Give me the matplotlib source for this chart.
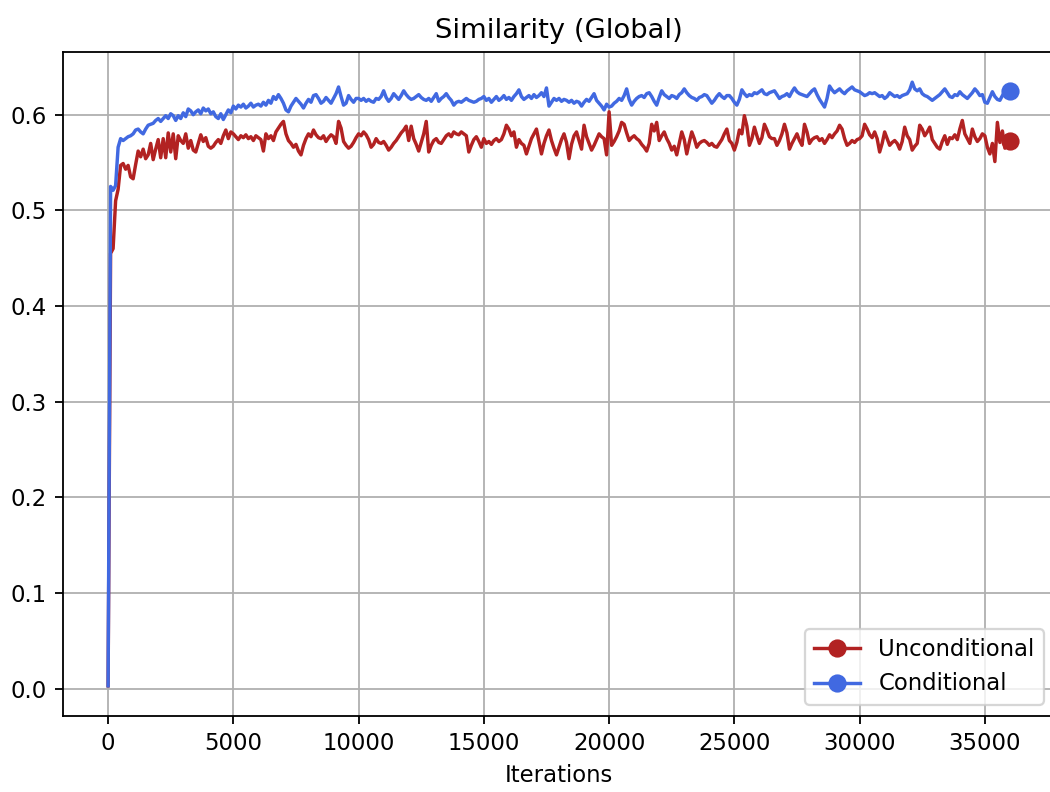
import matplotlib
matplotlib.use("Agg")
import matplotlib.pyplot as plt
import numpy as np

step = 100
iterations = list(range(0, 36001, step))

conditional = [
    0.003, 0.525, 0.521, 0.526, 0.566, 0.575, 0.573, 0.575, 0.577, 0.578,
    0.580, 0.584, 0.585, 0.582, 0.580, 0.585, 0.589, 0.590, 0.591, 0.594,
    0.596, 0.593, 0.596, 0.599, 0.596, 0.601, 0.599, 0.594, 0.599, 0.596,
    0.602, 0.598, 0.606, 0.604, 0.600, 0.603, 0.605, 0.601, 0.607, 0.604,
    0.606, 0.601, 0.603, 0.598, 0.596, 0.601, 0.595, 0.600, 0.605, 0.602,
    0.609, 0.606, 0.610, 0.608, 0.611, 0.607, 0.609, 0.612, 0.608, 0.610,
    0.611, 0.609, 0.613, 0.610, 0.615, 0.612, 0.619, 0.616, 0.621, 0.617,
    0.612, 0.605, 0.603, 0.609, 0.613, 0.617, 0.614, 0.611, 0.607, 0.612,
    0.616, 0.613, 0.620, 0.621, 0.617, 0.612, 0.614, 0.618, 0.615, 0.612,
    0.617, 0.622, 0.629, 0.619, 0.610, 0.612, 0.620, 0.616, 0.613, 0.617,
    0.617, 0.615, 0.617, 0.614, 0.616, 0.614, 0.613, 0.617, 0.616, 0.619,
    0.625, 0.618, 0.614, 0.617, 0.622, 0.619, 0.616, 0.620, 0.625, 0.621,
    0.618, 0.616, 0.617, 0.619, 0.621, 0.618, 0.616, 0.615, 0.617, 0.614,
    0.618, 0.622, 0.614, 0.617, 0.619, 0.622, 0.618, 0.615, 0.610, 0.613,
    0.614, 0.613, 0.615, 0.617, 0.615, 0.614, 0.613, 0.614, 0.616, 0.617,
    0.619, 0.615, 0.617, 0.613, 0.616, 0.619, 0.615, 0.617, 0.620, 0.616,
    0.618, 0.615, 0.619, 0.622, 0.626, 0.619, 0.616, 0.618, 0.620, 0.617,
    0.621, 0.618, 0.620, 0.623, 0.619, 0.628, 0.609, 0.613, 0.617, 0.615,
    0.617, 0.614, 0.616, 0.615, 0.613, 0.615, 0.612, 0.614, 0.613, 0.609,
    0.613, 0.616, 0.614, 0.618, 0.622, 0.615, 0.612, 0.609, 0.605, 0.611,
    0.608, 0.609, 0.612, 0.614, 0.617, 0.615, 0.620, 0.627, 0.616, 0.610,
    0.614, 0.617, 0.619, 0.620, 0.618, 0.622, 0.623, 0.619, 0.614, 0.610,
    0.618, 0.625, 0.621, 0.619, 0.617, 0.620, 0.619, 0.617, 0.621, 0.623,
    0.627, 0.623, 0.620, 0.618, 0.617, 0.615, 0.618, 0.619, 0.621, 0.620,
    0.616, 0.612, 0.615, 0.619, 0.622, 0.619, 0.617, 0.620, 0.620, 0.617,
    0.613, 0.610, 0.616, 0.626, 0.622, 0.619, 0.621, 0.620, 0.623, 0.622,
    0.624, 0.626, 0.622, 0.621, 0.623, 0.624, 0.625, 0.621, 0.617, 0.619,
    0.620, 0.622, 0.619, 0.624, 0.628, 0.624, 0.622, 0.621, 0.620, 0.619,
    0.622, 0.625, 0.627, 0.621, 0.616, 0.612, 0.608, 0.617, 0.630, 0.626,
    0.623, 0.625, 0.627, 0.624, 0.622, 0.625, 0.627, 0.629, 0.626, 0.625,
    0.624, 0.622, 0.620, 0.621, 0.623, 0.622, 0.623, 0.621, 0.619, 0.620,
    0.617, 0.619, 0.623, 0.621, 0.619, 0.620, 0.618, 0.620, 0.621, 0.622,
    0.626, 0.634, 0.627, 0.625, 0.627, 0.622, 0.620, 0.619, 0.617, 0.615,
    0.617, 0.619, 0.621, 0.624, 0.627, 0.623, 0.619, 0.618, 0.621, 0.620,
    0.624, 0.621, 0.619, 0.617, 0.620, 0.623, 0.627, 0.624, 0.620, 0.621,
    0.613, 0.612, 0.618, 0.624, 0.619, 0.616, 0.615, 0.620, 0.624, 0.622,
    0.625,
]

unconditional = [
    0.003, 0.455, 0.460, 0.510, 0.522, 0.547, 0.549, 0.543, 0.547, 0.535,
    0.533, 0.548, 0.562, 0.556, 0.564, 0.554, 0.558, 0.570, 0.553, 0.564,
    0.574, 0.555, 0.575, 0.555, 0.581, 0.561, 0.580, 0.554, 0.578, 0.573,
    0.570, 0.580, 0.565, 0.573, 0.563, 0.561, 0.570, 0.579, 0.572, 0.576,
    0.567, 0.565, 0.567, 0.571, 0.574, 0.570, 0.578, 0.584, 0.575, 0.582,
    0.580, 0.577, 0.574, 0.578, 0.576, 0.579, 0.575, 0.577, 0.573, 0.578,
    0.576, 0.574, 0.562, 0.580, 0.575, 0.578, 0.573, 0.582, 0.586, 0.590,
    0.593, 0.580, 0.573, 0.570, 0.566, 0.569, 0.562, 0.558, 0.568, 0.575,
    0.580, 0.577, 0.584, 0.579, 0.576, 0.575, 0.578, 0.572, 0.576, 0.579,
    0.577, 0.570, 0.593, 0.586, 0.572, 0.568, 0.565, 0.567, 0.571, 0.576,
    0.580, 0.578, 0.582, 0.579, 0.574, 0.566, 0.569, 0.575, 0.571, 0.570,
    0.572, 0.568, 0.563, 0.566, 0.570, 0.573, 0.577, 0.581, 0.584, 0.588,
    0.573, 0.588, 0.575, 0.569, 0.562, 0.571, 0.580, 0.593, 0.561, 0.568,
    0.573, 0.575, 0.571, 0.570, 0.574, 0.578, 0.580, 0.577, 0.582, 0.580,
    0.579, 0.582, 0.580, 0.578, 0.561, 0.568, 0.574, 0.577, 0.572, 0.566,
    0.575, 0.570, 0.572, 0.569, 0.573, 0.575, 0.572, 0.574, 0.580, 0.589,
    0.585, 0.578, 0.582, 0.566, 0.574, 0.570, 0.568, 0.559, 0.567, 0.575,
    0.580, 0.585, 0.572, 0.559, 0.570, 0.578, 0.584, 0.573, 0.565, 0.558,
    0.566, 0.574, 0.580, 0.571, 0.554, 0.569, 0.578, 0.582, 0.573, 0.564,
    0.589, 0.577, 0.570, 0.563, 0.568, 0.574, 0.580, 0.577, 0.575, 0.558,
    0.603, 0.568, 0.572, 0.577, 0.583, 0.592, 0.590, 0.581, 0.573, 0.576,
    0.578, 0.575, 0.573, 0.569, 0.566, 0.562, 0.570, 0.590, 0.583, 0.592,
    0.573, 0.578, 0.582, 0.575, 0.570, 0.563, 0.567, 0.558, 0.570, 0.582,
    0.574, 0.559, 0.571, 0.582, 0.575, 0.566, 0.570, 0.572, 0.573, 0.571,
    0.568, 0.570, 0.567, 0.566, 0.570, 0.574, 0.580, 0.585, 0.573, 0.570,
    0.563, 0.571, 0.584, 0.580, 0.599, 0.588, 0.568, 0.575, 0.587, 0.578,
    0.570, 0.576, 0.590, 0.584, 0.577, 0.575, 0.575, 0.568, 0.573, 0.580,
    0.590, 0.581, 0.564, 0.570, 0.575, 0.580, 0.573, 0.568, 0.590, 0.582,
    0.570, 0.574, 0.576, 0.577, 0.573, 0.575, 0.570, 0.574, 0.579, 0.576,
    0.580, 0.583, 0.589, 0.585, 0.575, 0.568, 0.570, 0.573, 0.571, 0.574,
    0.575, 0.578, 0.590, 0.585, 0.579, 0.576, 0.582, 0.575, 0.561, 0.570,
    0.582, 0.575, 0.568, 0.571, 0.573, 0.570, 0.564, 0.572, 0.587, 0.578,
    0.574, 0.563, 0.567, 0.570, 0.589, 0.585, 0.578, 0.582, 0.587, 0.574,
    0.570, 0.566, 0.564, 0.572, 0.578, 0.569, 0.576, 0.575, 0.579, 0.574,
    0.585, 0.594, 0.580, 0.575, 0.570, 0.585, 0.577, 0.572, 0.575, 0.580,
    0.578, 0.566, 0.559, 0.570, 0.551, 0.592, 0.571, 0.583, 0.565, 0.575,
    0.572,
]

title = "Similarity (Global)"
xlabel = "Iterations"
series_labels = ["Unconditional", "Conditional"]
colors = ["firebrick", "royalblue"]

dpi = 164
fig = plt.figure(figsize=(1050 / dpi, 792 / dpi), dpi=dpi)
ax = fig.add_axes([63 / 1050, 76 / 792, 992 / 1050, 664 / 792])

ax.plot(iterations, unconditional, color=colors[0], marker="o", markersize=7,
        markevery=[-1], label=series_labels[0])
ax.plot(iterations, conditional, color=colors[1], marker="o", markersize=7,
        markevery=[-1], label=series_labels[1])

ax.set_title(title)
ax.set_xlabel(xlabel)
ax.grid(True)
ax.spines["right"].set_visible(False)
ax.legend(loc="lower right")

fig.savefig("out.png", dpi=dpi)
